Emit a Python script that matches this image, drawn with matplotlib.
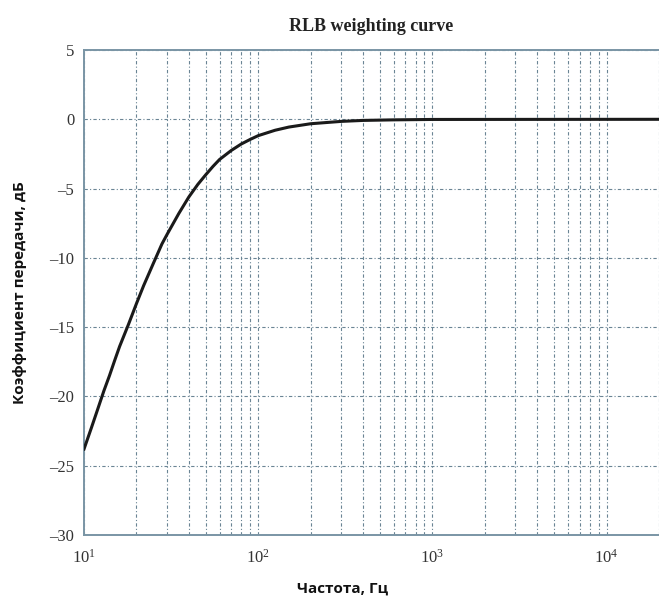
import numpy as np
import matplotlib
matplotlib.use("Agg")
import matplotlib.pyplot as plt

# RLB weighting curve
freq_hz = [10, 11, 12, 13, 14, 15, 16, 18, 20, 22, 25, 28, 30, 35, 40, 45,
           50, 55, 60, 70, 80, 90, 100, 125, 150, 200, 300, 400, 600, 1000,
           20000]
gain_db = [-23.8, -22.3, -20.9, -19.6, -18.5, -17.4, -16.4, -14.8, -13.3,
           -12.0, -10.4, -9.0, -8.3, -6.8, -5.6, -4.7, -4.0, -3.4, -2.9,
           -2.25, -1.78, -1.45, -1.18, -0.79, -0.56, -0.32, -0.15, -0.08,
           -0.04, -0.01, 0.0]

y_ticks = [5, 0, -5, -10, -15, -20, -25, -30]
x_ticks = [10, 100, 1000, 10000]
x_tick_labels = ["$10^{1}$", "$10^{2}$", "$10^{3}$", "$10^{4}$"]

plt.rcParams['mathtext.fontset'] = 'custom'
plt.rcParams['mathtext.rm'] = 'Liberation Serif'
plt.rcParams['mathtext.it'] = 'Liberation Serif'

fig = plt.figure(figsize=(6.59, 5.97), dpi=100)
ax = fig.add_axes([0.1275, 0.1039, 0.8725, 0.8123])

grid_col = '#6a8494'
ax.plot(freq_hz, gain_db, color='#1a1a1a', linewidth=2.2, zorder=3)

ax.set_xscale('log')
ax.set_xlim(10, 20000)
ax.set_ylim(-30, 5)
ax.set_yticks(y_ticks)
ax.set_yticklabels([str(v).replace('-', '\u2013') for v in y_ticks],
                   family='Liberation Serif', fontsize=12, color='#333333')
ax.set_xticks(x_ticks)
ax.set_xticklabels(x_tick_labels, fontsize=12, color='#333333')
ax.tick_params(axis='x', which='both', length=0, pad=10)
ax.tick_params(axis='y', which='both', length=0, pad=7)

ax.grid(True, which='major', axis='both', color=grid_col, linestyle=(0, (3, 2, 1, 2)),
        linewidth=0.8)
ax.grid(True, which='minor', axis='x', color=grid_col, linestyle=(0, (3, 2, 1, 2)),
        linewidth=0.8)

for s in ['left', 'bottom', 'top']:
    ax.spines[s].set_color('#7a95a5')
    ax.spines[s].set_linewidth(1.4)
ax.spines['right'].set_visible(False)

ax.set_title('RLB weighting curve', family='Liberation Serif', fontweight='bold',
             fontsize=13, pad=14, color='#222222')
fig.text(0.52, 0.003, 'Частота, Гц', family='Open Sans', fontweight='bold',
         fontsize=11, ha='center', va='bottom', color='#111111')
fig.text(0.030, 0.51, 'Коэффициент передачи, дБ', family='Open Sans',
         fontweight='bold', fontsize=11, rotation=90, ha='center', va='center',
         color='#111111')

fig.savefig('out.png', dpi=100)
